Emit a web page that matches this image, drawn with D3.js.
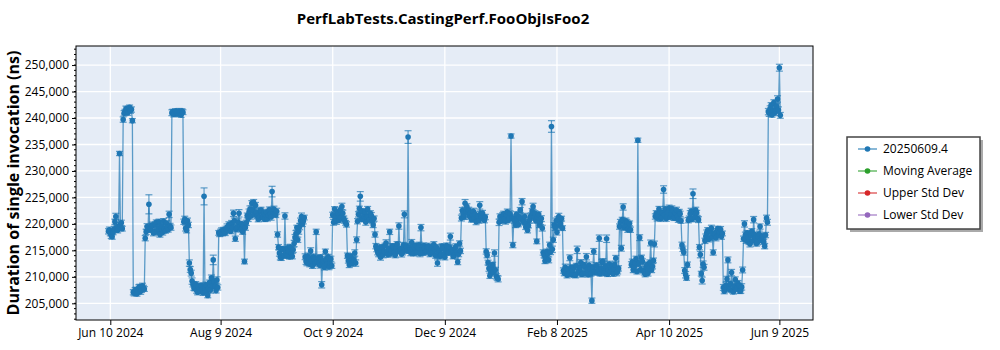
<!DOCTYPE html>
<html><head><meta charset="utf-8">
<script src="https://cdn.jsdelivr.net/npm/d3@7"></script>
<style>body{margin:0;background:#fff} text{font-family:"Open Sans","Noto Sans",sans-serif}</style>
</head><body><svg id="c" width="1000" height="350"></svg>
<script>
const chartTitle = "PerfLabTests.CastingPerf.FooObjIsFoo2";
const yTitle = "Duration of single invocation (ns)";
const seriesNames = ["20250609.4", "Moving Average", "Upper Std Dev", "Lower Std Dev"];
const seriesColors = ["#1f77b4", "#2ca02c", "#d62728", "#9467bd"];
const xTickDates = ["2024-06-10", "2024-08-09", "2024-10-09", "2024-12-09", "2025-02-08", "2025-04-10", "2025-06-09"];
const yTicks = [205000, 210000, 215000, 220000, 225000, 230000, 235000, 240000, 245000, 250000];

// one list of run dates; "values"/"errors" are the morning runs, "values2"/"errors2" the noon runs
const dates = [
"2024-06-09","2024-06-10","2024-06-11","2024-06-12","2024-06-13","2024-06-14","2024-06-15","2024-06-16","2024-06-17","2024-06-18","2024-06-19","2024-06-20","2024-06-21","2024-06-22","2024-06-23","2024-06-24","2024-06-25","2024-06-26","2024-06-27","2024-06-28","2024-06-29","2024-06-30",
"2024-07-01","2024-07-02","2024-07-03","2024-07-04","2024-07-05","2024-07-06","2024-07-07","2024-07-08","2024-07-09","2024-07-10","2024-07-11","2024-07-12","2024-07-13","2024-07-14","2024-07-15","2024-07-16","2024-07-17","2024-07-18","2024-07-19","2024-07-20","2024-07-21","2024-07-22","2024-07-23","2024-07-24","2024-07-25","2024-07-26","2024-07-27","2024-07-28","2024-07-29","2024-07-30","2024-07-31",
"2024-08-01","2024-08-02","2024-08-03","2024-08-04","2024-08-05","2024-08-06","2024-08-07","2024-08-08","2024-08-09","2024-08-10","2024-08-11","2024-08-12","2024-08-13","2024-08-14","2024-08-15","2024-08-16","2024-08-17","2024-08-18","2024-08-19","2024-08-20","2024-08-21","2024-08-22","2024-08-23","2024-08-24","2024-08-25","2024-08-26","2024-08-27","2024-08-28","2024-08-29","2024-08-30","2024-08-31",
"2024-09-01","2024-09-02","2024-09-03","2024-09-04","2024-09-05","2024-09-06","2024-09-07","2024-09-08","2024-09-09","2024-09-10","2024-09-11","2024-09-12","2024-09-13","2024-09-14","2024-09-15","2024-09-16","2024-09-17","2024-09-18","2024-09-19","2024-09-20","2024-09-21","2024-09-22","2024-09-23","2024-09-24","2024-09-25","2024-09-26","2024-09-27","2024-09-28","2024-09-29","2024-09-30",
"2024-10-01","2024-10-02","2024-10-03","2024-10-04","2024-10-05","2024-10-06","2024-10-07","2024-10-08","2024-10-09","2024-10-10","2024-10-11","2024-10-12","2024-10-13","2024-10-14","2024-10-15","2024-10-16","2024-10-17","2024-10-18","2024-10-19","2024-10-20","2024-10-21","2024-10-22","2024-10-23","2024-10-24","2024-10-25","2024-10-26","2024-10-27","2024-10-28","2024-10-29","2024-10-30","2024-10-31",
"2024-11-01","2024-11-02","2024-11-03","2024-11-04","2024-11-05","2024-11-06","2024-11-07","2024-11-08","2024-11-09","2024-11-10","2024-11-11","2024-11-12","2024-11-13","2024-11-14","2024-11-15","2024-11-16","2024-11-17","2024-11-18","2024-11-19","2024-11-20","2024-11-21","2024-11-22","2024-11-23","2024-11-24","2024-11-25","2024-11-26","2024-11-27","2024-11-28","2024-11-29","2024-11-30",
"2024-12-01","2024-12-02","2024-12-03","2024-12-04","2024-12-05","2024-12-06","2024-12-07","2024-12-08","2024-12-09","2024-12-10","2024-12-11","2024-12-12","2024-12-13","2024-12-14","2024-12-15","2024-12-16","2024-12-17","2024-12-18","2024-12-19","2024-12-20","2024-12-21","2024-12-22","2024-12-23","2024-12-24","2024-12-25","2024-12-26","2024-12-27","2024-12-28","2024-12-29","2024-12-30","2024-12-31",
"2025-01-01","2025-01-02","2025-01-03","2025-01-04","2025-01-05","2025-01-06","2025-01-07","2025-01-08","2025-01-09","2025-01-10","2025-01-11","2025-01-12","2025-01-13","2025-01-14","2025-01-15","2025-01-16","2025-01-17","2025-01-18","2025-01-19","2025-01-20","2025-01-21","2025-01-22","2025-01-23","2025-01-24","2025-01-25","2025-01-26","2025-01-27","2025-01-28","2025-01-29","2025-01-30","2025-01-31",
"2025-02-01","2025-02-02","2025-02-03","2025-02-04","2025-02-05","2025-02-06","2025-02-07","2025-02-08","2025-02-09","2025-02-10","2025-02-11","2025-02-12","2025-02-13","2025-02-14","2025-02-15","2025-02-16","2025-02-17","2025-02-18","2025-02-19","2025-02-20","2025-02-21","2025-02-22","2025-02-23","2025-02-24","2025-02-25","2025-02-26","2025-02-27","2025-02-28",
"2025-03-01","2025-03-02","2025-03-03","2025-03-04","2025-03-05","2025-03-06","2025-03-07","2025-03-08","2025-03-09","2025-03-10","2025-03-11","2025-03-12","2025-03-13","2025-03-14","2025-03-15","2025-03-16","2025-03-17","2025-03-18","2025-03-19","2025-03-20","2025-03-21","2025-03-22","2025-03-23","2025-03-24","2025-03-25","2025-03-26","2025-03-27","2025-03-28","2025-03-29","2025-03-30","2025-03-31",
"2025-04-01","2025-04-02","2025-04-03","2025-04-04","2025-04-05","2025-04-06","2025-04-07","2025-04-08","2025-04-09","2025-04-10","2025-04-11","2025-04-12","2025-04-13","2025-04-14","2025-04-15","2025-04-16","2025-04-17","2025-04-18","2025-04-19","2025-04-20","2025-04-21","2025-04-22","2025-04-23","2025-04-24","2025-04-25","2025-04-26","2025-04-27","2025-04-28","2025-04-29","2025-04-30",
"2025-05-01","2025-05-02","2025-05-03","2025-05-04","2025-05-05","2025-05-06","2025-05-07","2025-05-08","2025-05-09","2025-05-10","2025-05-11","2025-05-12","2025-05-13","2025-05-14","2025-05-15","2025-05-16","2025-05-17","2025-05-18","2025-05-19","2025-05-20","2025-05-21","2025-05-22","2025-05-23","2025-05-24","2025-05-25","2025-05-26","2025-05-27","2025-05-28","2025-05-29","2025-05-30","2025-05-31",
"2025-06-01","2025-06-02","2025-06-03","2025-06-04","2025-06-05","2025-06-06","2025-06-07","2025-06-08","2025-06-09"
];

const values = [
218600,218200,217600,219000,221400,218800,233300,220200,239700,241200,241600,241800,241400,239500,206900,207600,207200,208100,207500,207900,217300,219500,
223700,218900,219800,218500,220300,219100,218000,219600,220500,218700,219400,221800,219300,241200,240900,241100,240800,241000,241300,220400,219200,220600,212600,210700,208600,207800,207400,208200,207300,207600,225200,
208500,206500,208900,209800,213200,208200,209400,218300,218500,218200,218600,219000,218800,219600,220100,222000,217200,219400,222000,219000,218500,212900,220200,221000,222800,223900,224100,223500,221500,221200,222600,
221300,220900,222200,221600,221800,226100,222800,221700,218000,214500,213600,215200,221500,214000,214800,215600,213900,216300,218200,217000,219500,221400,220500,213800,212600,213500,214900,212100,213300,218500,
213600,212200,208500,213000,214800,212400,211900,213400,221700,222800,220500,221900,222600,223300,221000,220200,214000,212300,213900,212700,214500,217000,221800,225200,222400,221500,220300,222800,220800,221600,219800,
218000,215200,214300,213700,215600,214800,216400,214200,218500,214900,215700,214100,216200,219600,215300,214600,221800,215800,236400,215100,216500,214400,215900,214700,216000,219300,214500,215500,214900,215800,
214300,215600,216100,214000,212600,215000,214200,215400,213700,215900,214500,217600,215100,214000,215700,212800,216300,221100,222000,223900,223300,222600,222100,221700,221000,220400,221500,223500,221200,221000,221300,
214100,211600,210700,212300,214500,210100,209600,221400,220800,221900,220500,222300,221100,236600,216000,220600,221800,219900,222600,224200,220300,219400,218800,220700,221600,223300,222000,216700,221800,220400,219200,
214100,213500,214400,216000,238400,217000,219300,218400,221400,220000,219200,210700,210900,211400,213600,210500,211800,210300,215100,211200,212700,210600,211900,213800,210400,211500,205500,214800,
211000,210800,217300,211600,212900,210700,217200,211300,210900,212100,211500,213500,211000,219500,215400,223200,219800,220300,219100,218900,212800,211900,213400,235800,217400,213600,211200,210500,212300,211600,216400,
212000,216200,222000,221600,222300,221200,226500,222800,221400,223000,221800,222500,221100,222600,220800,221900,216000,214600,210400,212300,221000,222400,225700,221300,222100,220800,214200,209300,211800,217600,
218800,217300,219200,214600,218000,218700,217900,219000,218200,207300,208400,213200,207600,210800,207200,209500,207900,208300,207400,211300,220000,216800,217500,216200,218600,220800,217300,216500,218100,216900,217700,
215800,221100,241200,241800,240600,242900,241400,243600,249500
];

const errors = [
500,450,500,550,600,500,400,500,500,450,500,450,500,400,500,450,500,500,450,500,500,550,
1800,500,550,500,450,500,500,550,500,450,500,600,500,450,500,450,500,500,450,500,550,500,600,550,500,450,500,500,450,500,1600,
500,450,500,550,900,500,600,450,500,450,500,550,500,500,550,600,500,500,700,500,450,450,500,550,600,500,500,550,500,450,550,
500,450,550,500,500,1000,550,500,500,600,500,450,600,500,450,550,500,600,550,500,600,650,500,550,500,450,600,500,450,500,
500,550,600,500,450,500,550,500,500,450,600,500,550,600,500,450,500,550,500,450,600,550,500,900,500,450,550,500,500,550,500,
500,450,500,550,500,450,600,500,500,450,550,500,450,600,500,450,650,500,1200,500,550,450,500,500,550,600,450,500,500,550,
500,450,550,500,600,500,450,550,500,500,450,650,500,450,550,500,500,550,600,700,500,550,500,450,500,550,500,700,500,450,500,
500,550,500,450,600,500,550,500,450,500,550,500,450,400,500,550,500,450,500,600,500,450,500,550,500,600,500,450,500,500,550,
500,450,500,550,1100,500,550,500,600,500,450,500,450,500,550,500,450,500,700,500,550,450,500,600,450,500,500,550,
500,450,600,500,550,450,700,500,450,500,500,550,450,500,550,600,500,500,450,500,550,450,500,400,550,500,450,500,500,450,550,
500,550,500,450,550,500,700,500,450,550,500,500,450,550,500,500,550,500,600,500,500,550,900,500,450,550,600,650,550,500,
500,450,550,500,500,450,550,500,450,500,600,550,500,600,450,500,500,450,500,550,600,500,450,550,500,600,500,450,550,500,500,
500,550,600,500,450,550,500,600,650
];

const values2 = [
218900,217800,218400,220400,219300,219600,219800,219100,240900,241700,241000,242000,241600,207100,207400,206800,208000,207300,208300,207700,218500,219000,
219000,219700,218300,219900,218600,220400,219300,218400,219000,220100,218900,219600,241000,240700,241300,240900,241200,240600,241100,220900,218800,219800,211400,209200,207900,208600,207100,207600,208400,207000,207900,
207300,207800,207500,208300,209100,207400,208000,218100,218700,218900,218300,219400,219900,218600,219300,220600,219000,220300,219400,220000,219700,219300,221600,222300,221500,222600,221800,222200,220900,222500,221400,
222100,221700,221000,222700,221300,222300,221900,222400,215600,213700,215300,214100,214700,215500,213800,214400,215100,217400,219300,218600,220600,220000,221200,212900,213900,212400,213100,213800,212600,212900,
212500,213700,212800,211800,213300,213800,212600,212100,220300,221300,222200,220700,221200,222000,220600,219900,213100,213600,212500,213200,212600,220500,222900,221000,220900,222300,221300,221400,222000,220600,221000,
215800,214600,215500,214900,214200,215900,214700,215300,214400,215800,214600,215400,214800,215100,214300,216000,215200,214900,215600,214500,215300,215700,214600,215500,214400,215100,215900,214700,215600,214800,
215100,214600,215200,215600,214600,213900,215800,214300,215000,214700,215600,214800,213900,215300,214600,214300,214900,222500,221300,222400,222100,221400,220800,222400,221800,221200,220600,221900,222000,220700,214800,
212700,210200,211500,210900,211300,209800,220300,220600,221600,220900,221700,220700,221900,221200,221000,219800,220900,221300,221000,220500,221400,220100,219700,221300,222400,221200,220600,221300,219800,221000,214600,
213000,214800,213200,214700,215200,219800,220600,220900,219700,221000,211200,211800,210300,210600,211700,211300,210400,212100,210800,211700,210500,212300,210700,211400,212200,210600,211800,210900,
212200,211400,210600,212800,211100,212000,210500,212400,211700,210600,212300,210800,211600,220300,220800,219300,220600,219000,220100,212300,211300,212600,211000,212500,211400,212900,210800,211900,210700,212700,211300,
213100,221400,221100,222800,221000,222100,221700,221000,222200,221300,222900,221200,222000,221400,222300,220600,215300,211200,209800,220700,221900,220900,222300,222600,221000,215600,210600,212400,216800,218300,
217100,218500,217600,218200,217400,219100,218400,217600,208000,207800,209600,207900,208700,207400,208200,207700,208800,207300,208100,217200,217900,218300,216600,217900,216800,218000,216300,217600,219500,217400,216600,
217900,220300,240900,242400,241300,241000,242200,241500,240500
];

const errors2 = [
500,550,450,500,500,600,500,450,500,550,500,450,500,500,550,450,500,600,500,450,500,550,
500,450,550,500,600,500,450,500,550,500,450,500,550,500,450,500,600,500,450,550,500,500,550,600,450,500,500,550,450,500,500,
450,500,550,500,600,450,500,500,550,450,500,600,500,450,550,500,500,650,450,500,550,500,450,500,600,500,550,450,500,500,550,
500,550,450,500,600,500,450,550,500,500,450,600,500,550,450,500,500,600,450,550,500,500,450,550,600,500,450,500,550,500,
450,500,550,500,500,450,600,500,550,450,500,500,550,600,450,500,500,550,450,500,600,500,450,550,500,500,450,600,500,550,500,
500,450,550,500,600,450,500,500,550,450,500,600,500,450,550,500,500,450,600,500,550,450,500,500,600,450,500,550,500,450,
500,550,450,500,600,500,450,550,500,500,450,600,500,550,450,500,500,600,450,550,500,500,450,550,600,500,450,500,550,500,500,
450,500,550,500,500,450,600,500,550,450,500,500,550,600,450,500,500,550,450,500,600,500,450,550,500,500,450,600,500,550,500,
500,450,550,500,600,450,500,500,550,450,500,600,500,450,550,500,500,450,600,500,550,450,500,500,600,450,500,550,
500,550,450,500,600,500,450,550,500,500,450,600,500,550,450,500,500,600,450,550,500,500,450,550,600,500,450,500,550,500,500,
450,500,550,500,500,450,600,500,550,450,500,500,550,600,450,500,500,550,450,500,600,500,450,550,500,500,450,600,500,550,
500,450,550,500,600,450,500,500,550,450,500,600,500,450,550,500,500,450,600,500,550,450,500,500,600,450,500,550,500,450,500,
500,550,600,500,450,550,500,600,550
];

// ---------------- drawing ----------------
const svg = d3.select("#c");
const L = 76, R = 813, T = 46, B = 320;
const parse = d3.utcParse("%Y-%m-%d");
const parseNoon = d3.utcParse("%Y-%m-%dT%H:%M");
const pts = dates.flatMap((d, i) => [
  { t: parse(d), v: values[i], e: errors[i] },
  { t: parseNoon(d + "T12:00"), v: values2[i], e: errors2[i] }
]);

const x = d3.scaleUtc()
  .domain([new Date(Date.UTC(2024, 4, 22, 8)), new Date(Date.UTC(2025, 5, 27, 7))])
  .range([L, R]);
const y = d3.scaleLinear().domain([201850, 253600]).range([B, T]);

svg.append("rect").attr("x", L).attr("y", T).attr("width", R - L).attr("height", B - T).attr("fill", "#e5ecf6");

const xt = xTickDates.map(parse);
svg.append("g").selectAll("line").data(yTicks).join("line")
  .attr("x1", L).attr("x2", R).attr("y1", d => y(d)).attr("y2", d => y(d))
  .attr("stroke", "#fff").attr("stroke-width", 1.3);
svg.append("g").selectAll("line").data(xt).join("line")
  .attr("y1", T).attr("y2", B).attr("x1", d => x(d)).attr("x2", d => x(d))
  .attr("stroke", "#fff").attr("stroke-width", 1.3);

const c = seriesColors[0];
const plot = svg.append("g");
plot.append("path").datum(pts)
  .attr("d", d3.line().x(d => x(d.t)).y(d => y(d.v)))
  .attr("fill", "none").attr("stroke", c).attr("stroke-width", 1.3).attr("stroke-opacity", 0.7);
const eb = plot.append("g").attr("stroke", c).attr("stroke-width", 1.2).attr("stroke-opacity", 0.7);
eb.selectAll("line.v").data(pts).join("line").attr("class", "v")
  .attr("x1", d => x(d.t)).attr("x2", d => x(d.t))
  .attr("y1", d => y(d.v - d.e)).attr("y2", d => y(d.v + d.e));
eb.selectAll("line.hi").data(pts).join("line").attr("class", "hi")
  .attr("x1", d => x(d.t) - 3.5).attr("x2", d => x(d.t) + 3.5)
  .attr("y1", d => y(d.v + d.e)).attr("y2", d => y(d.v + d.e));
eb.selectAll("line.lo").data(pts).join("line").attr("class", "lo")
  .attr("x1", d => x(d.t) - 3.5).attr("x2", d => x(d.t) + 3.5)
  .attr("y1", d => y(d.v - d.e)).attr("y2", d => y(d.v - d.e));
plot.append("g").selectAll("circle").data(pts).join("circle")
  .attr("cx", d => x(d.t)).attr("cy", d => y(d.v)).attr("r", 2.8).attr("fill", c);

svg.append("rect").attr("x", L).attr("y", T).attr("width", R - L).attr("height", B - T)
  .attr("fill", "none").attr("stroke", "#000").attr("stroke-width", 1);

const yAxis = svg.append("g").attr("transform", `translate(${L},0)`)
  .call(d3.axisLeft(y).tickValues(yTicks).tickFormat(d3.format(",")).tickSize(4).tickPadding(3));
yAxis.select(".domain").remove();
yAxis.selectAll("text").attr("font-size", 12).attr("fill", "#000")
  .style("font-family", '"Open Sans","Noto Sans",sans-serif');
const minor = d3.range(202000, 253001, 1000);
svg.append("g").selectAll("line").data(minor).join("line")
  .attr("x1", L - 2).attr("x2", L).attr("y1", d => y(d)).attr("y2", d => y(d))
  .attr("stroke", "#000").attr("stroke-width", 1);

const xAxis = svg.append("g").attr("transform", `translate(0,${B})`)
  .call(d3.axisBottom(x).tickValues(xt).tickFormat(d3.utcFormat("%b %-d %Y")).tickSize(5).tickPadding(3));
xAxis.select(".domain").remove();
xAxis.selectAll("text").attr("font-size", 12).attr("fill", "#000")
  .style("font-family", '"Open Sans","Noto Sans",sans-serif');

svg.append("text").attr("x", 443).attr("y", 24).attr("text-anchor", "middle")
  .attr("font-size", 15).attr("font-weight", "bold").text(chartTitle);
svg.append("text").attr("transform", `translate(19,${(T + B) / 2}) rotate(-90)`)
  .attr("text-anchor", "middle").attr("font-size", 16).attr("font-weight", "bold").text(yTitle);

const lg = svg.append("g");
lg.append("rect").attr("x", 850).attr("y", 140).attr("width", 133).attr("height", 92).attr("fill", "#aaa");
lg.append("rect").attr("x", 847).attr("y", 137).attr("width", 133).attr("height", 92)
  .attr("fill", "#fff").attr("stroke", "#444").attr("stroke-width", 1.5);
seriesNames.forEach((n, i) => {
  const yy = 149 + i * 22;
  lg.append("line").attr("x1", 858).attr("x2", 877).attr("y1", yy).attr("y2", yy)
    .attr("stroke", seriesColors[i]).attr("stroke-width", 1.5).attr("stroke-opacity", 0.7);
  lg.append("circle").attr("cx", 867.5).attr("cy", yy).attr("r", 2.8).attr("fill", seriesColors[i]);
  lg.append("text").attr("x", 883).attr("y", yy + 4).attr("font-size", 12).attr("fill", "#000").text(n);
});
</script></body></html>
